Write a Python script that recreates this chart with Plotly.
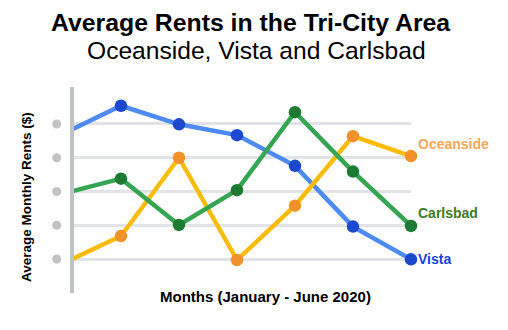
import plotly.graph_objects as go

# Month index 0 is the December lead-in segment; 1..6 are January..June 2020
month_idx = [0, 1, 2, 3, 4, 5, 6]

# Relative rent levels per city (grid lines sit at levels 1..5)
vista = [4.71, 5.54, 4.99, 4.67, 3.76, 1.96, 0.99]
carlsbad = [2.94, 3.38, 2.01, 3.04, 5.35, 3.59, 1.98]
oceanside = [0.87, 1.68, 4.00, 0.97, 2.58, 4.64, 4.05]

grid_levels = [1, 2, 3, 4, 5]

title_text = "Average Rents in the Tri-City Area"
subtitle_text = "Oceanside, Vista and Carlsbad"
x_title = "Months (January - June 2020)"
y_title = "Average Monthly Rents ($)"

FONT = "Liberation Sans, Arial, sans-serif"

series = [
    # name, values, line colour, marker colour, label colour, label y-shift
    ("Vista", vista, "#4d8bf3", "#1b48cc", "#1b3fe2", 0),
    ("Oceanside", oceanside, "#fbbc09", "#f09129", "#f5a75c", 12),
    ("Carlsbad", carlsbad, "#35a552", "#1c7a33", "#3a7b26", 13),
]

X_LO, X_HI = 0.19, 6.0
Y_LO, Y_HI = -0.007, 6.096
PLOT_W, PLOT_H = 337, 206

fig = go.Figure()

# Lines (the lead-in segment is clipped by the plot edge)
for name, vals, lc, mc, tc, ys in series:
    fig.add_trace(go.Scatter(
        x=month_idx, y=vals, mode="lines",
        line=dict(color=lc, width=4.5),
        hoverinfo="skip",
    ))

# Monthly markers
for name, vals, lc, mc, tc, ys in series:
    fig.add_trace(go.Scatter(
        x=month_idx[1:], y=vals[1:], mode="markers",
        marker=dict(color=mc, size=12.5, line=dict(width=0)),
        cliponaxis=False, name=name,
    ))

# Grey tick dots beside the vertical axis (9 px circles, 17 px left of the axis)
dot_d = 9
dot_cx = -17.3 / PLOT_W
dot_rx = dot_d / 2 / PLOT_W
dot_ry = dot_d / 2 * (Y_HI - Y_LO) / PLOT_H
shapes = [
    dict(type="circle", xref="paper", yref="y",
         x0=dot_cx - dot_rx, x1=dot_cx + dot_rx,
         y0=lvl - dot_ry, y1=lvl + dot_ry,
         fillcolor="#c2c2c2", line=dict(width=0), layer="above")
    for lvl in grid_levels
]

annotations = []
for name, vals, lc, mc, tc, ys in series:
    annotations.append(dict(
        x=month_idx[-1], y=vals[-1], xref="x", yref="y",
        text=f"<b>{name}</b>", showarrow=False,
        xanchor="left", yanchor="middle", xshift=5, yshift=ys,
        font=dict(family=FONT, size=14, color=tc),
    ))

annotations += [
    dict(x=0.5223, y=1.3107, xref="paper", yref="paper",
         text=f"<b>{title_text}</b>", showarrow=False,
         xanchor="center", yanchor="middle",
         font=dict(family=FONT, size=24.8, color="#000000")),
    dict(x=0.542, y=1.1748, xref="paper", yref="paper",
         text=subtitle_text, showarrow=False,
         xanchor="center", yanchor="middle",
         font=dict(family=FONT, size=24.6, color="#000000")),
    dict(x=0.567, y=-0.018, xref="paper", yref="paper",
         text=f"<b>{x_title}</b>", showarrow=False,
         xanchor="center", yanchor="middle",
         font=dict(family=FONT, size=15, color="#000000")),
    dict(x=-0.143, y=0.465, xref="paper", yref="paper",
         text=f"<b>{y_title}</b>", showarrow=False, textangle=-90,
         xanchor="center", yanchor="middle",
         font=dict(family=FONT, size=13.5, color="#000000")),
]

fig.update_layout(
    width=508, height=330,
    margin=dict(l=74, r=97, t=87, b=37),
    paper_bgcolor="white", plot_bgcolor="white",
    showlegend=False,
    annotations=annotations,
    shapes=shapes,
    xaxis=dict(range=[X_LO, X_HI], showgrid=False, zeroline=False,
               showticklabels=False, ticks="", showline=False),
    yaxis=dict(range=[Y_LO, Y_HI], tickvals=grid_levels,
               showticklabels=False, ticks="",
               showgrid=True, gridcolor="#e1e3e6", gridwidth=3,
               zeroline=False,
               showline=True, linecolor="#bfc3c8", linewidth=4),
)

fig.write_html("out.html")
